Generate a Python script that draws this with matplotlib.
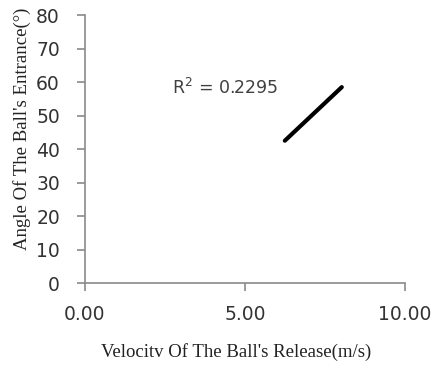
import matplotlib.pyplot as plt

# linear trendline endpoints (velocity m/s, angle deg)
trend_x = [6.25, 8.03]
trend_y = [42.5, 58.5]
r2_text = "R$^2$ = 0.2295"

xticks = [0, 5, 10]
xticklabels = ["0.00", "5.00", "10.00"]
yticks = list(range(0, 81, 10))

fig = plt.figure(figsize=(4.4, 3.69), dpi=100)
ax = fig.add_axes([0.193, 0.233, 0.727, 0.726])

ax.plot(trend_x, trend_y, color="black", lw=3, solid_capstyle="round")
ax.text(2.72, 58.2, r2_text, fontsize=12.5, color="#404040", va="center", ha="left")

ax.set_xlim(0, 10)
ax.set_ylim(0, 80)
ax.set_xticks(xticks)
ax.set_xticklabels(xticklabels)
ax.set_yticks(yticks)

for s in ["top", "right"]:
    ax.spines[s].set_visible(False)
for s in ["left", "bottom"]:
    ax.spines[s].set_color("#8a8a8a")
    ax.spines[s].set_linewidth(1.2)

ax.tick_params(axis="both", colors="#8a8a8a", labelcolor="#333333",
               labelsize=13.5, length=6, width=1.2, direction="out")
ax.tick_params(axis="x", pad=10)
ax.tick_params(axis="y", pad=12)

ax.set_xlabel("Velocitv Of The Ball's Release(m/s)", family="Liberation Serif",
              fontsize=13.5, color="#222222")
ax.set_ylabel("Angle Of The Ball's Entrance(°)", family="Liberation Serif",
              fontsize=13.5, color="#222222")
ax.xaxis.set_label_coords(0.472, -0.225)
ax.yaxis.set_label_coords(-0.169, 0.575)

fig.savefig("out.png", dpi=100)
